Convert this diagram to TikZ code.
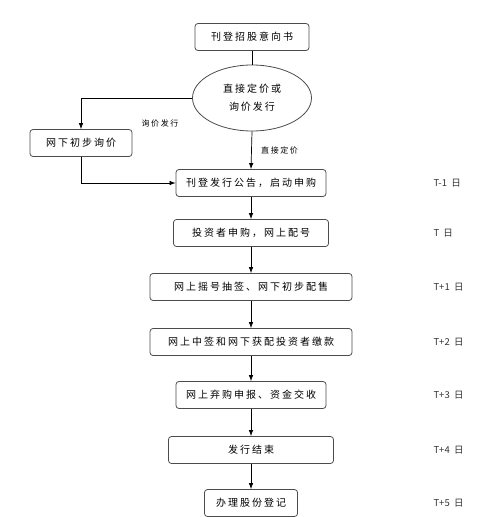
\documentclass[tikz,border=0pt]{standalone}
\usepackage{fontspec}
\usetikzlibrary{arrows.meta,shapes.geometric}
\newfontfamily\cjk[LetterSpace=20]{Noto Sans CJK SC}
\newfontfamily\cjkday{Noto Sans CJK SC}

\begin{document}
\begin{tikzpicture}[x=1pt,y=-1pt,font=\cjk\fontsize{10}{12}\selectfont,
  box/.style={draw=black!70,line width=0.8pt,rounded corners=3pt,minimum height=27pt,inner sep=0pt},
  arr/.style={-{Latex[length=6pt,width=4.5pt]},line width=0.7pt},
  lbl/.style={font=\cjk\fontsize{8}{10}\selectfont},
  day/.style={anchor=west,text=black!80,font=\cjkday\fontsize{9.5}{11}\selectfont}]
  \useasboundingbox (0,0) rectangle (500,517);
  % main column
  \node[box,minimum width=114pt] (zgs) at (252,37) {刊登招股意向书};
  \node[draw=black!70,line width=0.8pt,ellipse,minimum width=119pt,minimum height=66pt,align=center,inner sep=0pt] (djx) at (252,98) {直接定价或\\[6pt]询价发行};
  \node[box,minimum width=102pt] (wxcb) at (81,143) {网下初步询价};
  \node[box,minimum width=150pt] (kdgg) at (251,183) {刊登发行公告，启动申购};
  \node[box,minimum width=155pt] (tzsg) at (251,233) {投资者申购，网上配号};
  \node[box,minimum width=202pt] (yhcq) at (251,287) {网上摇号抽签、网下初步配售};
  \node[box,minimum width=202pt] (zqjk) at (251,342) {网上中签和网下获配投资者缴款};
  \node[box,minimum width=150pt] (qgsb) at (251,395) {网上弃购申报、资金交收};
  \node[box,minimum width=165pt] (fxjs) at (251,450) {发行结束};
  \node[box,minimum width=93pt] (blgf) at (251,503) {办理股份登记};
  % days
  \node[day] (t0) at (430,183) {T-1\ \ 日}; \node[day] (t1) at (430,233) {T\ \ 日}; \node[day] (t2) at (430,287) {T+1\ \ 日};
  \node[day] (t3) at (430,342) {T+2\ \ 日}; \node[day] (t4) at (430,395) {T+3\ \ 日}; \node[day] (t5) at (430,450) {T+4\ \ 日}; \node[day] (t6) at (430,503) {T+5\ \ 日};
  % connectors
  \draw[line width=0.7pt] (zgs) -- (djx);
  \draw[arr] (djx.west) -| (wxcb.north); \node[lbl] (xjfx) at (160,123) {询价发行};
  \draw[arr] (wxcb.south) |- (kdgg.west);
  \draw[arr] (djx.south) -- (kdgg.north) node[lbl,midway,right=6pt] (zjdj) {直接定价};
  \draw[arr] (kdgg) -- (tzsg); \draw[arr] (tzsg) -- (yhcq); \draw[arr] (yhcq) -- (zqjk);
  \draw[arr] (zqjk) -- (qgsb); \draw[arr] (qgsb) -- (fxjs); \draw[arr] (fxjs) -- (blgf);
\end{tikzpicture}
\end{document}
